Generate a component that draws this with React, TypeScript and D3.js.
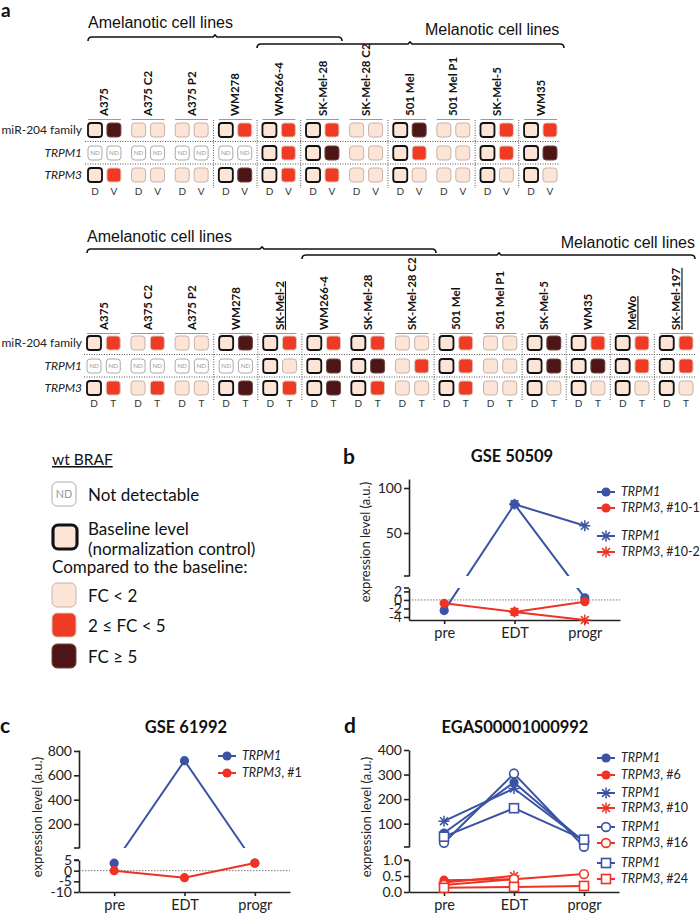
import { useEffect, useRef } from "react";
import * as d3 from "d3";

const SANS = "Lato, 'Noto Sans', sans-serif";
const ARIAL = "'Liberation Sans', Arial, sans-serif";
const BLUE = "#3a53a4";
const RED = "#ee3325";

// cell codes, one letter per cell (D then V/T):
// B baseline, L FC<2, R 2<=FC<5, K FC>=5, N not detectable
const topLines = ["A375", "A375 C2", "A375 P2", "WM278", "WM266-4", "SK-Mel-28", "SK-Mel-28 C2", "501 Mel", "501 Mel P1", "SK-Mel-5", "WM35"];
const topMir = ["BK", "LL", "LL", "BR", "BR", "BR", "LL", "BK", "LL", "BR", "BR"];
const topTrpm1 = ["NN", "NN", "NN", "NN", "BR", "BK", "LL", "BR", "LL", "BR", "BK"];
const topTrpm3 = ["BR", "LL", "LL", "BK", "BR", "BR", "LL", "BL", "LL", "BL", "BL"];
const topSep = [false, false, false, true, true, true, false, true, false, true, true];

const botLines = ["A375", "A375 C2", "A375 P2", "WM278", "SK-Mel-2", "WM266-4", "SK-Mel-28", "SK-Mel-28 C2", "501 Mel", "501 Mel P1", "SK-Mel-5", "WM35", "MeWo", "SK-Mel-197"];
const botMir = ["BR", "LR", "LL", "BK", "BR", "BR", "BR", "LL", "BR", "LL", "BK", "BR", "BR", "BR"];
const botTrpm1 = ["NN", "NN", "NN", "NN", "BL", "BK", "BK", "LR", "BR", "LL", "BK", "BK", "BR", "BR"];
const botTrpm3 = ["BR", "LR", "LL", "BK", "BR", "BK", "BR", "LL", "BR", "LL", "BL", "BL", "BL", "BL"];
const botSep = [false, false, false, true, true, true, false, false, true, false, true, true, true, true];
const botUnderline = ["SK-Mel-2", "MeWo", "SK-Mel-197"];

const rowNames = ["miR-204 family", "TRPM1", "TRPM3"];
const timepoints = ["pre", "EDT", "progr"];

// b: GSE 50509
const bTrpm1_1 = [-2.5, 82, 0.5];
const bTrpm3_1 = [-0.8, -2.8, -0.4];
const bTrpm1_2 = [null, 82, 58];
const bTrpm3_2 = [null, -2.8, -4.7];
const bUpTicks = [50, 100];
const bLoTicks = [-4, -2, 0, 2];

// c: GSE 61992
const cTrpm1 = [3.5, 720, 3.5];
const cTrpm3 = [0, -3.3, 3.6];
const cUpTicks = [200, 400, 600, 800];
const cLoTicks = [-10, -5, 0, 5];

// d: EGAS00001000992
const dTrpm1_6 = [62, 268, 25];
const dTrpm3_6 = [0.37, 0.4, null];
const dTrpm1_10 = [110, 243, 28];
const dTrpm3_10 = [0.3, 0.5, null];
const dTrpm1_16 = [22, 304, 6];
const dTrpm3_16 = [0.22, 0.4, 0.56];
const dTrpm1_24 = [47, 163, 35];
const dTrpm3_24 = [0.13, 0.16, 0.19];
const dUpTicks = [100, 200, 300, 400];
const dLoTicks = [0, 0.5, 1];

const cellFill: Record<string, string> = { B: "#fce4d6", L: "#fce4d6", R: "#ef3b24", K: "#4e1517", N: "#ffffff" };
const cellStroke: Record<string, string> = { B: "#111111", L: "#c6b3a8", R: "#dcc9c0", K: "#6d4a48", N: "#a9a9a9" };

type Sel = d3.Selection<any, any, any, any>;

function cell(g: Sel, code: string, x: number, y: number, s: number) {
  g.append("rect")
    .attr("x", x)
    .attr("y", y)
    .attr("width", s)
    .attr("height", s)
    .attr("rx", s * 0.22)
    .attr("fill", cellFill[code])
    .attr("stroke", cellStroke[code])
    .attr("stroke-width", code === "B" ? s * 0.13 : 1);
  if (code === "N") {
    g.append("text")
      .attr("x", x + s / 2)
      .attr("y", y + s / 2)
      .attr("dy", "0.35em")
      .attr("text-anchor", "middle")
      .attr("font-family", SANS)
      .attr("font-size", s * 0.45)
      .attr("fill", "#999")
      .text("ND");
  }
}

function brace(g: Sel, x0: number, x1: number, y: number, tip: number) {
  g.append("path")
    .attr("d", `M${x0},${y + 4} Q${x0},${y} ${x0 + 4},${y} L${tip - 2},${y} L${tip},${y - 2} L${tip + 2},${y} L${x1 - 4},${y} Q${x1},${y} ${x1},${y + 4}`)
    .attr("fill", "none")
    .attr("stroke", "#111")
    .attr("stroke-width", 1.6);
}

type HeatCfg = {
  lines: string[];
  rows: string[][];
  sep: boolean[];
  underline: string[];
  x0: number;
  x1: number;
  labelY: number;
  rowY: number[];
  sub: string;
  subY: number;
};

function drawHeatmap(root: Sel, c: HeatCfg) {
  const g = root.append("g");
  const x = d3.scaleBand<string>().domain(c.lines).range([c.x0, c.x1]).paddingInner(0.245).paddingOuter(0);
  const bw = x.bandwidth();
  const gap = x.step() - bw;
  const cs = 14;

  rowNames.forEach((n, i) => {
    g.append("text")
      .attr("x", 82)
      .attr("y", c.rowY[i])
      .attr("dy", "0.35em")
      .attr("text-anchor", "end")
      .attr("font-family", SANS)
      .attr("font-size", 12)
      .attr("font-style", i ? "italic" : "normal")
      .attr("fill", "#222")
      .text(n);
  });

  for (let i = 0; i < 2; i++) {
    const y = (c.rowY[i] + c.rowY[i + 1]) / 2;
    g.append("line")
      .attr("x1", c.x0 - 3)
      .attr("x2", c.x1 + 3)
      .attr("y1", y)
      .attr("y2", y)
      .attr("stroke", "#555")
      .attr("stroke-width", 1)
      .attr("stroke-dasharray", "1,1.5");
  }

  c.lines.forEach((l, j) => {
    const px = x(l)!;
    if (c.sep[j]) {
      g.append("line")
        .attr("x1", px - gap / 2)
        .attr("x2", px - gap / 2)
        .attr("y1", c.labelY + 4)
        .attr("y2", c.subY - 7)
        .attr("stroke", "#555")
        .attr("stroke-width", 1)
        .attr("stroke-dasharray", "1,1.5");
    }
    g.append("text")
      .attr("transform", `translate(${px + bw / 2},${c.labelY}) rotate(-90)`)
      .attr("dy", "0.35em")
      .attr("font-family", SANS)
      .attr("font-weight", "bold")
      .attr("font-size", 11.5)
      .attr("fill", "#111")
      .attr("text-decoration", c.underline.includes(l) ? "underline" : "none")
      .text(l);
    g.append("line")
      .attr("x1", px)
      .attr("x2", px + bw)
      .attr("y1", c.labelY + 3.5)
      .attr("y2", c.labelY + 3.5)
      .attr("stroke", "#999")
      .attr("stroke-width", 1.2);
    c.rows.forEach((codes, i) => {
      const pair = codes[j];
      for (let k = 0; k < 2; k++) cell(g, pair[k], px + k * (bw - cs), c.rowY[i] - cs / 2, cs);
    });
    ["D", c.sub].forEach((t, k) => {
      g.append("text")
        .attr("x", px + cs / 2 + k * (bw - cs))
        .attr("y", c.subY)
        .attr("text-anchor", "middle")
        .attr("font-family", SANS)
        .attr("font-size", 10)
        .attr("fill", "#333")
        .text(t);
    });
  });
}

type Series = { values: (number | null)[]; color: string; marker: string };
type LegItem = { gene: string; suffix: string; color: string; marker: string };
type ChartCfg = {
  id: string;
  ax: number;
  xEnd: number;
  upDomain: [number, number];
  upRange: [number, number];
  upTicks: number[];
  loDomain: [number, number];
  loRange: [number, number];
  loTicks: number[];
  loFmt: (d: number) => string;
  zero: boolean;
  series: Series[];
  legend: LegItem[];
  legX: number;
  legY: number[];
  ylabX: number;
  ylabY: number;
};

function marker(g: Sel, type: string, cx: number, cy: number, color: string) {
  if (type === "circle") {
    g.append("circle").attr("cx", cx).attr("cy", cy).attr("r", 4.6).attr("fill", color);
  } else if (type === "ocircle") {
    g.append("circle").attr("cx", cx).attr("cy", cy).attr("r", 4.4).attr("fill", "#fff").attr("stroke", color).attr("stroke-width", 1.6);
  } else if (type === "square") {
    g.append("rect").attr("x", cx - 4.5).attr("y", cy - 4.5).attr("width", 9).attr("height", 9).attr("fill", "#fff").attr("stroke", color).attr("stroke-width", 1.6);
  } else {
    [0, 45, 90, 135].forEach((a) => {
      const r = (a * Math.PI) / 180;
      const dx = Math.cos(r) * 5.5;
      const dy = Math.sin(r) * 5.5;
      g.append("line").attr("x1", cx - dx).attr("x2", cx + dx).attr("y1", cy - dy).attr("y2", cy + dy).attr("stroke", color).attr("stroke-width", 1.5);
    });
  }
}

function styleAxis(sel: Sel, size: number) {
  sel.select(".domain").attr("stroke", "#222").attr("stroke-width", 1.6);
  sel.selectAll(".tick line").attr("stroke", "#222").attr("stroke-width", 1.6);
  sel.selectAll(".tick text").attr("font-family", SANS).attr("font-size", size).attr("fill", "#222");
}

function drawChart(root: Sel, c: ChartCfg) {
  const g = root.append("g");
  const x = d3.scalePoint<string>().domain(timepoints).range([c.ax, c.xEnd]).padding(0.5);
  const up = d3.scaleLinear().domain(c.upDomain).range(c.upRange);
  const lo = d3.scaleLinear().domain(c.loDomain).range(c.loRange);
  const yv = (v: number) => (v > c.loDomain[1] ? up(v) : lo(v));

  const cp = g.append("clipPath").attr("id", c.id);
  cp.append("rect").attr("x", c.ax).attr("y", c.upRange[1] - 20).attr("width", c.xEnd - c.ax + 30).attr("height", c.upRange[0] - c.upRange[1] + 20);
  cp.append("rect").attr("x", c.ax).attr("y", c.loRange[1]).attr("width", c.xEnd - c.ax + 30).attr("height", c.loRange[0] - c.loRange[1] + 20);

  if (c.zero) {
    g.append("line")
      .attr("x1", c.ax)
      .attr("x2", c.xEnd)
      .attr("y1", lo(0))
      .attr("y2", lo(0))
      .attr("stroke", "#777")
      .attr("stroke-width", 1)
      .attr("stroke-dasharray", "1.5,1.5");
  }

  const gu = g
    .append("g")
    .attr("transform", `translate(${c.ax},0)`)
    .call(d3.axisLeft(up).tickValues(c.upTicks).tickSize(5).tickSizeOuter(0).tickPadding(2).tickFormat((d) => String(d)));
  styleAxis(gu, 14);
  const gl = g
    .append("g")
    .attr("transform", `translate(${c.ax},0)`)
    .call(d3.axisLeft(lo).tickValues(c.loTicks).tickSize(5).tickSizeOuter(0).tickPadding(2).tickFormat((d) => c.loFmt(d as number)));
  styleAxis(gl, 14);
  [c.upRange[0], c.loRange[1]].forEach((y) => {
    g.append("line").attr("x1", c.ax - 5).attr("x2", c.ax).attr("y1", y).attr("y2", y).attr("stroke", "#222").attr("stroke-width", 1.6);
  });
  const gx = g
    .append("g")
    .attr("transform", `translate(0,${c.loRange[0]})`)
    .call(d3.axisBottom(x).tickSize(4).tickSizeOuter(0).tickPadding(4));
  styleAxis(gx, 14.5);

  const line = d3
    .line<number | null>()
    .defined((d) => d != null)
    .x((_, i) => x(timepoints[i])!)
    .y((d) => yv(d as number));
  c.series.forEach((s) => {
    g.append("path")
      .datum(s.values)
      .attr("d", line)
      .attr("fill", "none")
      .attr("stroke", s.color)
      .attr("stroke-width", 2)
      .attr("clip-path", `url(#${c.id})`);
    s.values.forEach((v, i) => {
      if (v != null) marker(g, s.marker, x(timepoints[i])!, yv(v), s.color);
    });
  });

  c.legend.forEach((it, i) => {
    const y = c.legY[i];
    g.append("line").attr("x1", c.legX).attr("x2", c.legX + 18).attr("y1", y).attr("y2", y).attr("stroke", it.color).attr("stroke-width", 2);
    marker(g, it.marker, c.legX + 9, y, it.color);
    const t = g
      .append("text")
      .attr("x", c.legX + 24)
      .attr("y", y)
      .attr("dy", "0.35em")
      .attr("font-family", SANS)
      .attr("font-size", 12.5)
      .attr("fill", "#222");
    t.append("tspan").attr("font-style", "italic").text(it.gene);
    if (it.suffix) t.append("tspan").text(it.suffix);
  });

  g.append("text")
    .attr("transform", `translate(${c.ylabX},${c.ylabY}) rotate(-90)`)
    .attr("dy", "0.35em")
    .attr("text-anchor", "middle")
    .attr("font-family", SANS)
    .attr("font-size", 13)
    .attr("fill", "#222")
    .text("expression level (a.u.)");
}

function label(g: Sel, t: string, x: number, y: number, size: number, opts: { bold?: boolean; anchor?: string; font?: string } = {}) {
  return g
    .append("text")
    .attr("x", x)
    .attr("y", y)
    .attr("text-anchor", opts.anchor ?? "start")
    .attr("font-family", opts.font ?? SANS)
    .attr("font-weight", opts.bold ? "bold" : "normal")
    .attr("font-size", size)
    .attr("fill", "#111")
    .text(t);
}

export default function App() {
  const ref = useRef<SVGSVGElement>(null);

  useEffect(() => {
    if (!ref.current) return;
    const svg = d3.select(ref.current);
    svg.selectAll("*").remove();

    // panel a
    label(svg, "a", 1, 17, 19, { bold: true });
    label(svg, "Amelanotic cell lines", 88, 28, 16, { font: ARIAL });
    brace(svg, 88, 342, 37, 215);
    label(svg, "Melanotic cell lines", 425, 35, 16, { font: ARIAL });
    brace(svg, 257, 564, 44, 410);
    drawHeatmap(svg, {
      lines: topLines,
      rows: [topMir, topTrpm1, topTrpm3],
      sep: topSep,
      underline: [],
      x0: 88,
      x1: 557,
      labelY: 116,
      rowY: [130, 153, 175],
      sub: "V",
      subY: 195,
    });

    label(svg, "Amelanotic cell lines", 87, 242, 16, { font: ARIAL });
    brace(svg, 87, 436, 249, 262);
    label(svg, "Melanotic cell lines", 695, 248, 16, { font: ARIAL, anchor: "end" });
    brace(svg, 302, 695, 255, 499);
    drawHeatmap(svg, {
      lines: botLines,
      rows: [botMir, botTrpm1, botTrpm3],
      sep: botSep,
      underline: botUnderline,
      x0: 87,
      x1: 693,
      labelY: 330,
      rowY: [343, 366, 388],
      sub: "T",
      subY: 407,
    });

    // legend for a
    label(svg, "wt BRAF", 52, 465, 15.5).attr("text-decoration", "underline");
    cell(svg, "N", 52, 482, 24);
    label(svg, "Not detectable", 88, 501, 17);
    cell(svg, "B", 53, 525, 24);
    label(svg, "Baseline level", 88, 535, 17);
    label(svg, "(normalization control)", 88, 555, 17);
    label(svg, "Compared to the baseline:", 52, 573, 17);
    cell(svg, "L", 52, 583, 24);
    label(svg, "FC < 2", 88, 602, 17);
    cell(svg, "R", 52, 613, 24);
    label(svg, "2 \u2264 FC < 5", 88, 632, 17);
    cell(svg, "K", 52, 644, 24);
    label(svg, "FC \u2265 5", 88, 663, 17);

    // panel b
    label(svg, "b", 343, 464, 21, { bold: true });
    label(svg, "GSE 50509", 512, 462, 16.5, { bold: true, anchor: "middle" });
    drawChart(svg, {
      id: "clip-b",
      ax: 409,
      xEnd: 620,
      upDomain: [2.2, 110],
      upRange: [576, 479],
      upTicks: bUpTicks,
      loDomain: [-4.7, 2.8],
      loRange: [620, 588],
      loTicks: bLoTicks,
      loFmt: (d) => String(d),
      zero: true,
      series: [
        { values: bTrpm1_2, color: BLUE, marker: "star" },
        { values: bTrpm3_2, color: RED, marker: "star" },
        { values: bTrpm1_1, color: BLUE, marker: "circle" },
        { values: bTrpm3_1, color: RED, marker: "circle" },
      ],
      legend: [
        { gene: "TRPM1", suffix: "", color: BLUE, marker: "circle" },
        { gene: "TRPM3", suffix: ", #10-1", color: RED, marker: "circle" },
        { gene: "TRPM1", suffix: "", color: BLUE, marker: "star" },
        { gene: "TRPM3", suffix: ", #10-2", color: RED, marker: "star" },
      ],
      legX: 597,
      legY: [492, 508, 536, 552],
      ylabX: 365,
      ylabY: 542,
    });

    // panel c
    label(svg, "c", 0, 733, 21, { bold: true });
    label(svg, "GSE 61992", 186, 733, 16.5, { bold: true, anchor: "middle" });
    drawChart(svg, {
      id: "clip-c",
      ax: 79,
      xEnd: 290,
      upDomain: [3, 808],
      upRange: [848, 750],
      upTicks: cUpTicks,
      loDomain: [-10, 5],
      loRange: [892, 860],
      loTicks: cLoTicks,
      loFmt: (d) => String(d),
      zero: true,
      series: [
        { values: cTrpm1, color: BLUE, marker: "circle" },
        { values: cTrpm3, color: RED, marker: "circle" },
      ],
      legend: [
        { gene: "TRPM1", suffix: "", color: BLUE, marker: "circle" },
        { gene: "TRPM3", suffix: ", #1", color: RED, marker: "circle" },
      ],
      legX: 218,
      legY: [756, 773],
      ylabX: 37,
      ylabY: 817,
    });

    // panel d
    label(svg, "d", 344, 733, 21, { bold: true });
    label(svg, "EGAS00001000992", 515, 733, 16.5, { bold: true, anchor: "middle" });
    drawChart(svg, {
      id: "clip-d",
      ax: 409,
      xEnd: 619,
      upDomain: [5, 400],
      upRange: [847, 750],
      upTicks: dUpTicks,
      loDomain: [0, 1],
      loRange: [892, 860],
      loTicks: dLoTicks,
      loFmt: (d) => d3.format(".1f")(d),
      zero: false,
      series: [
        { values: dTrpm1_6, color: BLUE, marker: "circle" },
        { values: dTrpm1_10, color: BLUE, marker: "star" },
        { values: dTrpm1_16, color: BLUE, marker: "ocircle" },
        { values: dTrpm1_24, color: BLUE, marker: "square" },
        { values: dTrpm3_6, color: RED, marker: "circle" },
        { values: dTrpm3_10, color: RED, marker: "star" },
        { values: dTrpm3_16, color: RED, marker: "ocircle" },
        { values: dTrpm3_24, color: RED, marker: "square" },
      ],
      legend: [
        { gene: "TRPM1", suffix: "", color: BLUE, marker: "circle" },
        { gene: "TRPM3", suffix: ", #6", color: RED, marker: "circle" },
        { gene: "TRPM1", suffix: "", color: BLUE, marker: "star" },
        { gene: "TRPM3", suffix: ", #10", color: RED, marker: "star" },
        { gene: "TRPM1", suffix: "", color: BLUE, marker: "ocircle" },
        { gene: "TRPM3", suffix: ", #16", color: RED, marker: "ocircle" },
        { gene: "TRPM1", suffix: "", color: BLUE, marker: "square" },
        { gene: "TRPM3", suffix: ", #24", color: RED, marker: "square" },
      ],
      legX: 597,
      legY: [758, 775, 793, 808, 827, 843, 863, 879],
      ylabX: 366,
      ylabY: 817,
    });
  }, []);

  return <svg ref={ref} width={700} height={918} style={{ position: "absolute", left: 0, top: 0, background: "#fff" }} />;
}
